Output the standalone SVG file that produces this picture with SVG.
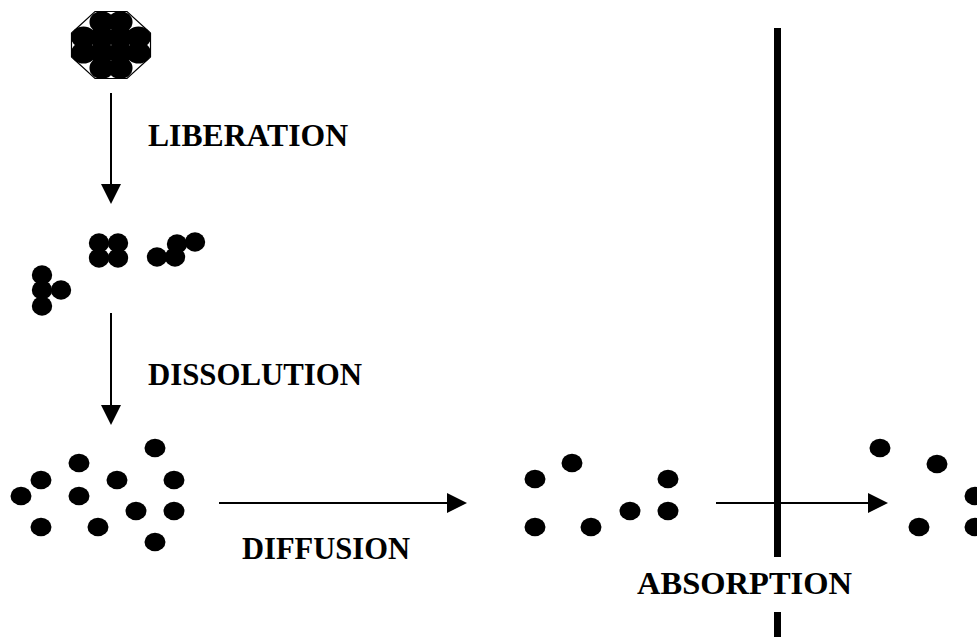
<svg xmlns="http://www.w3.org/2000/svg" width="977" height="641" viewBox="0 0 977 641">
  <style>
    .lbl { font-family: "Liberation Serif", "Times New Roman", serif; font-weight: bold; font-size: 32px; fill: #000; }
    .conn { stroke: #000; stroke-width: 2; fill: none; marker-end: url(#arrow); }
    .p { fill: #000; }
  </style>
  <defs>
    <marker id="arrow" markerUnits="userSpaceOnUse" markerWidth="20" markerHeight="20" refX="2" refY="10" orient="auto">
      <path d="M0,0 L20,10 L0,20 Z" fill="#000"/>
    </marker>
    <ellipse id="dot" rx="10.5" ry="9.2"/>
    <ellipse id="frag" rx="10.2" ry="9.7"/>
    <ellipse id="tab" rx="12.3" ry="10.8"/>
  </defs>
  <rect width="977" height="641" fill="#fff"/>

  <g id="tablet" transform="translate(111,45)">
    <polygon points="-16,-33.5 16,-33.5 39.5,-12 39.5,12 16,33.5 -16,33.5 -39.5,12 -39.5,-12" fill="#fff" stroke="#000" stroke-width="1.2"/>
    <g class="p">
      <use href="#tab" x="-9.25" y="-23"/>
      <use href="#tab" x="9.25" y="-23"/>
      <use href="#tab" x="-27.5" y="-7.75"/>
      <use href="#tab" x="-9.25" y="-7.75"/>
      <use href="#tab" x="9.25" y="-7.75"/>
      <use href="#tab" x="27.5" y="-7.75"/>
      <use href="#tab" x="-27.5" y="7.75"/>
      <use href="#tab" x="-9.25" y="7.75"/>
      <use href="#tab" x="9.25" y="7.75"/>
      <use href="#tab" x="27.5" y="7.75"/>
      <use href="#tab" x="-9.25" y="23"/>
      <use href="#tab" x="9.25" y="23"/>
    </g>
  </g>

  <g id="fragments" class="p">
    <use href="#frag" x="99" y="243"/>
    <use href="#frag" x="118" y="243"/>
    <use href="#frag" x="99" y="258"/>
    <use href="#frag" x="118" y="258"/>
    <use href="#frag" x="157" y="257"/>
    <use href="#frag" x="175" y="257"/>
    <use href="#frag" x="177" y="244"/>
    <use href="#frag" x="195" y="242"/>
    <use href="#frag" x="42" y="275"/>
    <use href="#frag" x="42" y="290"/>
    <use href="#frag" x="42" y="306"/>
    <use href="#frag" x="61" y="290"/>
  </g>

  <g id="dissolved" class="p">
    <use href="#dot" x="155" y="448"/>
    <use href="#dot" x="79" y="463"/>
    <use href="#dot" x="41" y="480"/>
    <use href="#dot" x="117" y="480"/>
    <use href="#dot" x="174" y="480"/>
    <use href="#dot" x="21" y="496"/>
    <use href="#dot" x="79" y="496"/>
    <use href="#dot" x="136" y="511"/>
    <use href="#dot" x="174" y="511"/>
    <use href="#dot" x="41" y="527"/>
    <use href="#dot" x="98" y="527"/>
    <use href="#dot" x="155" y="542"/>
  </g>

  <g id="diffused" class="p">
    <use href="#dot" x="572" y="463"/>
    <use href="#dot" x="535" y="479"/>
    <use href="#dot" x="668" y="479"/>
    <use href="#dot" x="630" y="511"/>
    <use href="#dot" x="668" y="511"/>
    <use href="#dot" x="535" y="527"/>
    <use href="#dot" x="591" y="527"/>
  </g>

  <g id="absorbed" class="p">
    <use href="#dot" x="880" y="448"/>
    <use href="#dot" x="937" y="464"/>
    <use href="#dot" x="975" y="496"/>
    <use href="#dot" x="919" y="527"/>
    <use href="#dot" x="975" y="527"/>
  </g>

  <g id="membrane" fill="#000">
    <rect x="774" y="28" width="7" height="529"/>
    <rect x="774" y="612" width="7" height="25"/>
  </g>

  <g id="connectors">
    <line class="conn" x1="111" y1="93" x2="111" y2="186"/>
    <line class="conn" x1="111" y1="313" x2="111" y2="407"/>
    <line class="conn" x1="219" y1="503" x2="449" y2="503"/>
    <line class="conn" x1="716" y1="503" x2="870" y2="503"/>
  </g>

  <g id="labels">
    <text class="lbl" x="148" y="146" textLength="200" lengthAdjust="spacingAndGlyphs">LIBERATION</text>
    <text class="lbl" x="148" y="385" textLength="214" lengthAdjust="spacingAndGlyphs">DISSOLUTION</text>
    <text class="lbl" x="242" y="559" textLength="168" lengthAdjust="spacingAndGlyphs">DIFFUSION</text>
    <text class="lbl" x="637" y="594" textLength="215" lengthAdjust="spacingAndGlyphs">ABSORPTION</text>
  </g>
</svg>
